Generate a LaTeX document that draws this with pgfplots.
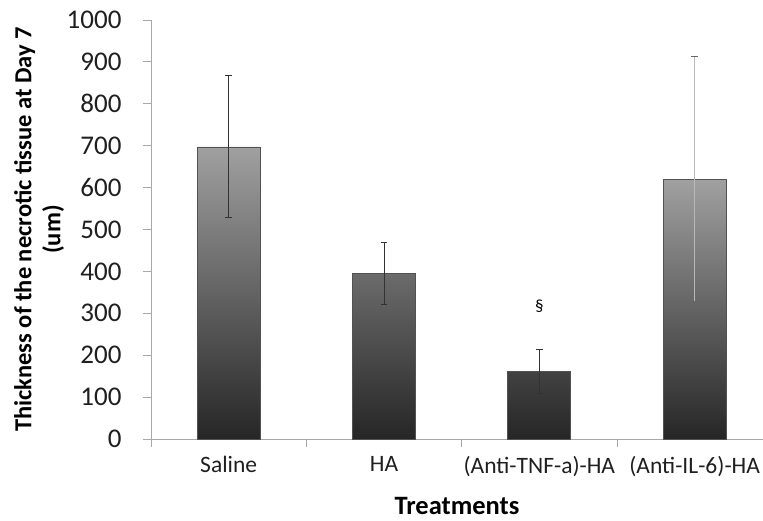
\documentclass[border=0pt]{standalone}
\usepackage{fontspec}
\setmainfont{Carlito}
\usepackage{pgfplots}
\pgfplotsset{compat=1.18}
\definecolor{axgray}{HTML}{A8A8A8}
\definecolor{bartop}{HTML}{A0A0A0}
\definecolor{barbot}{HTML}{262626}
\definecolor{errc}{HTML}{333333}
\definecolor{errlight}{HTML}{B8B8B8}
\begin{document}
\begin{tikzpicture}
\begin{axis}[name=ax, scale only axis, width=612pt, height=419pt,
  anchor=south west, at={(0,0)},
  xmin=-0.5, xmax=3.44, ymin=0, ymax=1000,
  clip=false,
  axis x line*=bottom, axis y line*=left,
  axis line style={axgray, line width=0.8pt, -},
  xtick={0,1,2,3},
  xticklabels={Saline,HA,(Anti-TNF-a)-HA,(Anti-IL-6)-HA},
  minor xtick={-0.5,0.5,1.5,2.5},
  major x tick style={draw=none},
  minor tick style={axgray, line width=0.8pt},
  minor tick length=8pt,
  ytick={0,100,...,1000},
  y tick style={axgray, line width=0.8pt},
  tick align=outside, major tick length=8pt,
  /pgf/number format/assume math mode=true,
  /pgf/number format/1000 sep={},
  yticklabel style={font=\fontsize{27}{29}\selectfont, text=black!88, anchor=east, xshift=-18pt},
  xticklabel style={font=\fontsize{23.5}{26}\selectfont, text=black!88, yshift=-6pt},
  xlabel={\textbf{Treatments}},
  xlabel style={font=\fontsize{26.5}{30}\selectfont, at={(axis description cs:0.5,0)}, anchor=center, yshift=-67pt},
  ylabel={Thickness of the necrotic tissue at Day 7\\(um)},
  ylabel style={font=\bfseries\fontsize{24.5}{29}\selectfont, align=center, at={(axis description cs:-0.183,0.5)}, anchor=center},
]
\addplot[ybar, bar width=63pt, bar shift=0pt, draw=black!68, line width=0.9pt,
  top color=bartop, bottom color=barbot,
  error bars/.cd, y dir=both, y explicit,
  error bar style={color=errc, line width=0.8pt},
  error mark options={rotate=90, mark size=3.3pt, color=errc, line width=0.8pt}]
  coordinates {(0,697) += (0,171) -= (0,168)
               (1,394) += (0,75) -= (0,72)
               (2,162) += (0,53) -= (0,52)};
\addplot[ybar, bar width=63pt, bar shift=0pt, draw=black!68, line width=0.9pt,
  top color=bartop, bottom color=barbot,
  error bars/.cd, y dir=both, y explicit,
  error bar style={color=errlight, line width=0.8pt},
  error mark options={rotate=90, mark size=3.3pt, color=black!60, line width=0.8pt}]
  coordinates {(3,619) += (0,293) -= (0,290)};
\node[font=\fontsize{17}{19}\selectfont] at (axis cs:2,318) {\S};
\end{axis}
\pgfresetboundingbox
\path[use as bounding box] (-151pt,-82pt) rectangle (612pt,439pt);
\end{tikzpicture}
\end{document}
